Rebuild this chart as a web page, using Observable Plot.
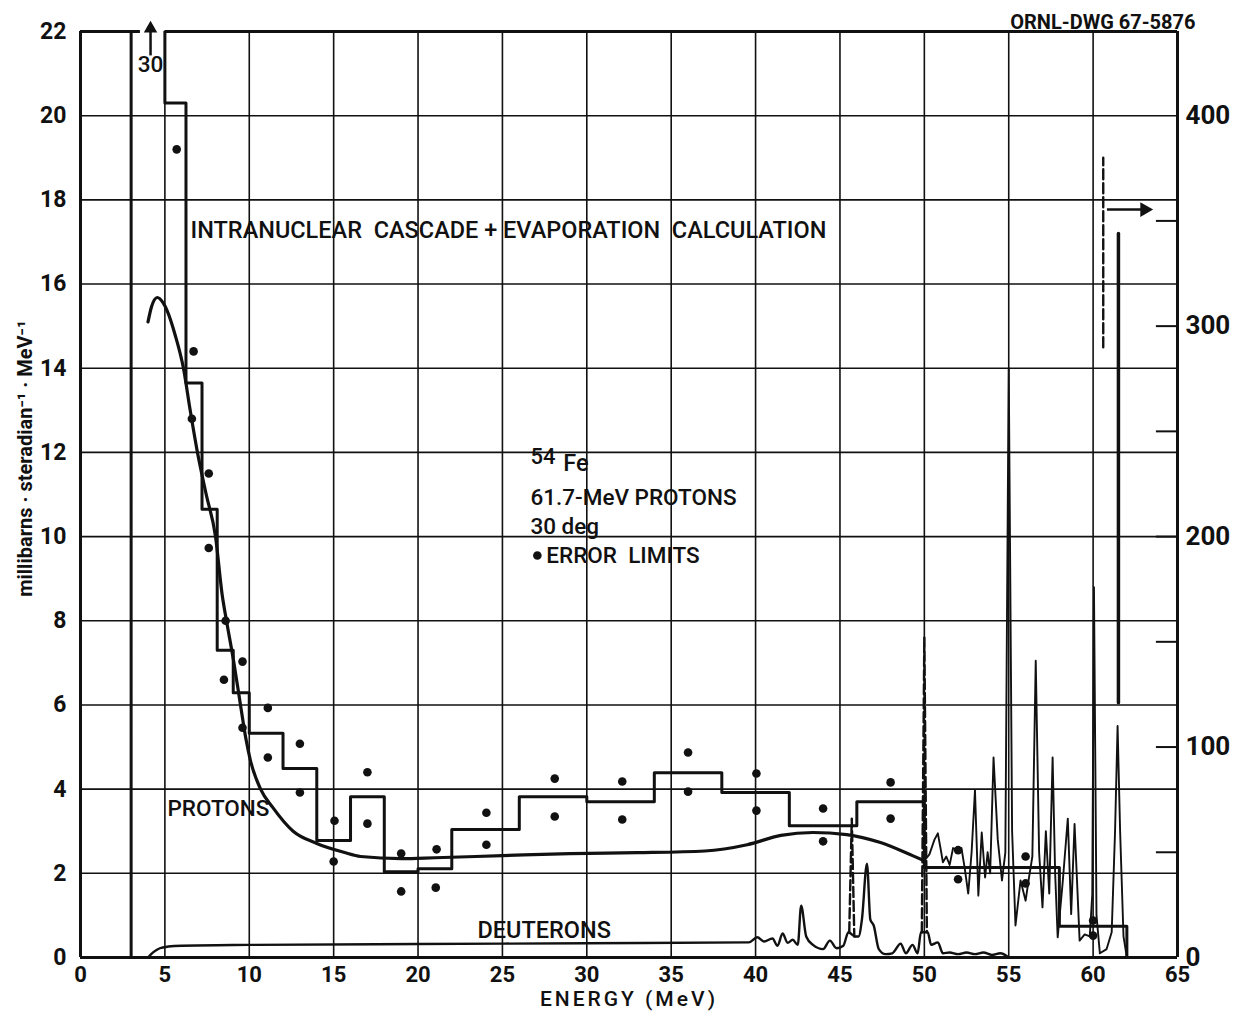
<!DOCTYPE html>
<html>
<head>
<meta charset="utf-8">
<script src="https://cdn.jsdelivr.net/npm/d3@7"></script>
<script src="https://cdn.jsdelivr.net/npm/@observablehq/plot@0.6"></script>
<style>
  html, body { margin: 0; padding: 0; background: #fff; }
  #chart { width: 1246px; height: 1020px; }
</style>
</head>
<body>
<div id="chart"></div>
<script>
// ---------- axes / ticks ----------
const xTicks = [0, 5, 10, 15, 20, 25, 30, 35, 40, 45, 50, 55, 60, 65];
const yTicks = [0, 2, 4, 6, 8, 10, 12, 14, 16, 18, 20, 22];
const rightTicks = [0, 100, 200, 300, 400];          // right-hand scale (x20)
const rightMinorTicks = [50, 100, 150, 200, 250, 300, 350];
const rightScaleFactor = 20;

// ---------- histogram: intranuclear cascade + evaporation ----------
const histEdges  = [3, 5, 6.25, 7.2, 8.1, 9.05, 10, 12, 14, 16, 18, 20, 22, 26, 30, 34, 38, 42, 46, 50, 58, 62];
const histValues = [30, 20.3, 13.65, 10.65, 7.3, 6.29, 5.33, 4.49, 2.78, 3.82, 2.04, 2.11, 3.04, 3.82, 3.7, 4.39, 3.92, 3.13, 3.7, 2.14, 0.74];

// ---------- error limits (dots) ----------
const errX = [5.7, 6.7, 6.6, 7.6, 7.6, 8.6, 8.5, 9.6, 9.6, 11.1, 11.1, 13, 13, 15.05, 15, 17, 17, 19, 19, 21.1, 21.05, 24.05, 24.05, 28.1, 28.1, 32.1, 32.1, 36, 36, 40.05, 40.05, 44, 44, 48, 48, 52, 52, 56, 56, 60, 60];
const errY = [19.2, 14.4, 12.8, 11.5, 9.73, 8.0, 6.6, 7.03, 5.46, 5.93, 4.75, 5.08, 3.92, 3.25, 2.28, 4.4, 3.18, 2.47, 1.57, 2.57, 1.66, 3.44, 2.68, 4.25, 3.35, 4.18, 3.28, 4.87, 3.94, 4.37, 3.49, 3.54, 2.76, 4.16, 3.3, 2.55, 1.86, 2.4, 1.76, 0.88, 0.52];

// ---------- measured protons (smooth part) ----------
const protonSmoothX = [4.0, 4.2, 4.55, 4.9, 5.15, 5.6, 6.1, 6.5, 6.93, 7.45, 8.0, 8.4, 8.65, 9.07, 9.48, 9.8, 10.07, 10.67, 11.4, 12.6, 14.0, 15.6, 16.6, 19, 21, 25, 29, 33, 37, 39.5, 41.5, 43.4, 45.4, 47.4, 49.3, 50];
const protonSmoothY = [15.1, 15.45, 15.68, 15.55, 15.35, 14.8, 14.0, 13.0, 12.0, 11.0, 10.0, 8.6, 8.0, 7.05, 6.0, 5.2, 4.68, 4.0, 3.56, 3.0, 2.71, 2.5, 2.4, 2.35, 2.37, 2.42, 2.47, 2.49, 2.53, 2.68, 2.9, 2.97, 2.92, 2.73, 2.42, 2.3];

// ---------- measured protons (resolved peaks above 50 MeV) ----------
const protonPeakX = [50.0, 50.3, 50.6, 50.8, 51.0, 51.1, 51.3, 51.5, 51.7, 52.0, 52.2, 52.4, 52.6, 52.8, 53.0, 53.2, 53.4, 53.6, 53.75, 53.9, 54.1, 54.35, 54.6, 54.8, 55.0, 55.2, 55.4, 55.7, 56.0, 56.2, 56.4, 56.6, 56.8, 57.0, 57.2, 57.4, 57.6, 57.75, 57.9, 58.2, 58.5, 58.7, 58.9, 59.2, 59.5, 59.8, 59.95, 60.05, 60.2, 60.4, 60.8, 61.1, 61.3, 61.45, 61.6, 61.8, 62.0];
const protonPeakY = [2.3, 2.45, 2.8, 2.95, 2.5, 2.26, 2.4, 2.2, 2.6, 2.55, 2.6, 2.1, 1.52, 2.5, 3.97, 1.47, 2.97, 1.9, 2.5, 2.0, 4.75, 2.8, 1.83, 2.5, 14.0, 3.0, 0.76, 1.83, 1.35, 1.9, 2.4, 7.05, 2.5, 1.19, 3.0, 1.52, 4.75, 2.0, 0.48, 1.8, 3.3, 1.03, 3.17, 0.4, 0.55, 0.5, 1.5, 8.8, 1.0, 0.1, 0.2, 0.6, 3.0, 5.5, 3.0, 0.5, 0.0];

// ---------- deuterons ----------
const deutX = [4.0, 4.3, 4.7, 5.2, 6, 10, 20, 30, 39.6, 40.1, 40.5, 41, 41.3, 41.6, 41.9, 42.2, 42.5, 42.7, 43.0, 43.4, 44.0, 44.4, 44.8, 45.2, 45.5, 45.9, 46.1, 46.3, 46.6, 46.8, 47.0, 47.3, 47.7, 48.1, 48.6, 48.9, 49.3, 49.6, 49.8, 50.2, 50.4, 50.8, 51.1, 51.5, 52, 52.5, 53, 53.5, 54, 54.5, 55];
const deutY = [0, 0.12, 0.22, 0.26, 0.28, 0.3, 0.32, 0.34, 0.36, 0.48, 0.38, 0.45, 0.28, 0.57, 0.35, 0.42, 0.3, 1.23, 0.5, 0.3, 0.2, 0.4, 0.22, 0.28, 0.6, 0.5, 0.5, 0.9, 2.23, 0.9, 0.76, 0.2, 0.08, 0.1, 0.33, 0.1, 0.3, 0.1, 0.6, 0.6, 0.3, 0.36, 0.1, 0.12, 0.08, 0.12, 0.08, 0.12, 0.06, 0.1, 0.0];

// dashed spikes (peak id, energy, value)
const dashedId = ["a", "a", "a", "b", "b", "b", "c", "c"];
const dashedX  = [45.55, 45.7, 45.85, 49.85, 50.0, 50.15, 60.6, 60.6];
const dashedY  = [0.6, 3.3, 0.5, 0.6, 7.6, 0.6, 14.5, 19.0];

// off-scale peak read on right-hand scale
const bigPeakX = [61.5, 61.5];
const bigPeakY = [6.05, 17.2];

// arrows: off-scale bar (value 30) and "read on right-hand scale"
const upArrowX = 4.15, upArrowY = [21.42, 22.02];
const rightArrowY = 17.77, rightArrowX = [60.85, 62.95];

// ---------- build tables ----------
const histSteps = [{x: histEdges[0], y: 0}].concat(histValues.map((v, i) => ({x: histEdges[i], y: v})), [{x: histEdges[histEdges.length - 1], y: 0}]);
const errors = errX.map((x, i) => ({x, y: errY[i]}));
const protonSmooth = protonSmoothX.map((x, i) => ({x, y: protonSmoothY[i]}));
const protonPeaks = protonPeakX.map((x, i) => ({x, y: protonPeakY[i]}));
const deut = deutX.map((x, i) => ({x, y: deutY[i]}));
const dashed = dashedX.map((x, i) => ({id: dashedId[i], x, y: dashedY[i]}));
const bigPeak = bigPeakX.map((x, i) => ({x, y: bigPeakY[i]}));

const ink = "#111";
const txtFont = "Roboto";
const T = 22.5; // annotation font size

const chart = Plot.plot({
  width: 1246,
  height: 1020,
  marginLeft: 80,
  marginRight: 69,
  marginTop: 31,
  marginBottom: 63,
  x: {domain: [0, 65]},
  y: {domain: [0, 22]},
  style: {fontFamily: txtFont, fontSize: "23px", fontWeight: "700", color: ink, background: "#fff", overflow: "visible"},
  marks: [
    // grid
    Plot.ruleX(xTicks.filter(d => d > 0 && d < 65), {stroke: ink, strokeWidth: 1.6}),
    Plot.ruleY(yTicks.filter(d => d > 0 && d < 22), {stroke: ink, strokeWidth: 1.6}),
    // frame (top line interrupted by the off-scale arrow)
    Plot.ruleX([0, 65], {stroke: ink, strokeWidth: 3}),
    Plot.ruleY([0], {stroke: ink, strokeWidth: 3}),
    Plot.ruleY([22, 22], {x1: [0, 5], x2: [3.55, 65], stroke: ink, strokeWidth: 3}),
    // right-hand inner ticks
    Plot.ruleY(rightMinorTicks, {y: d => d / rightScaleFactor, x1: 63.75, x2: 65, stroke: ink, strokeWidth: 2}),
    // axes
    Plot.axisY({ticks: yTicks, anchor: "left", tickSize: 0, tickPadding: 14, label: null}),
    Plot.axisY({ticks: rightTicks.map(d => d / rightScaleFactor), tickFormat: d => String(Math.round(d * rightScaleFactor)), anchor: "right", tickSize: 0, tickPadding: 8, label: null, fontSize: 26}),
    Plot.axisX({ticks: xTicks, tickSize: 0, tickPadding: 9, label: null, fontSize: 22}),
    // histogram
    Plot.line(histSteps, {x: "x", y: "y", curve: "step-after", stroke: ink, strokeWidth: 3, clip: true}),
    // measured spectra
    Plot.line(protonSmooth, {x: "x", y: "y", curve: "monotone-x", stroke: ink, strokeWidth: 3.2}),
    Plot.line(protonPeaks, {x: "x", y: "y", curve: "linear", stroke: ink, strokeWidth: 1.9}),
    Plot.line(deut, {x: "x", y: "y", curve: "monotone-x", stroke: ink, strokeWidth: 2.4}),
    Plot.line(dashed, {x: "x", y: "y", z: "id", stroke: ink, strokeWidth: 2.4, strokeDasharray: "10,4"}),
    Plot.line(bigPeak, {x: "x", y: "y", stroke: ink, strokeWidth: 3.5}),
    // error limits
    Plot.dot(errors, {x: "x", y: "y", r: 4.3, fill: ink, stroke: "none"}),
    // arrows (shaft + filled head)
    Plot.ruleX([upArrowX], {y1: upArrowY[0], y2: upArrowY[1], stroke: ink, strokeWidth: 2.5}),
    Plot.dot([upArrowX], {x: d => d, y: upArrowY[1] + 0.05, symbol: "triangle", r: 5, fill: ink, stroke: "none"}),
    Plot.ruleY([rightArrowY], {x1: rightArrowX[0], x2: rightArrowX[1], stroke: ink, strokeWidth: 2.5}),
    Plot.dot([rightArrowY], {x: rightArrowX[1] + 0.1, y: d => d, symbol: "triangle", rotate: 90, r: 5.5, fill: ink, stroke: "none"}),
    // annotations
    Plot.text(["30"], {x: upArrowX, y: 21.2, text: d => d, fontSize: T, fontWeight: 500, fill: ink}),
    Plot.text(["INTRANUCLEAR  CASCADE + EVAPORATION  CALCULATION"], {x: 6.52, y: 17.27, text: d => d, textAnchor: "start", fontSize: 23.5, fontWeight: 500, fill: ink}),
    Plot.text(["54"], {x: 26.66, y: 11.9, text: d => d, textAnchor: "start", fontSize: 22, fontWeight: 500, fill: ink}),
    Plot.text(["Fe"], {x: 28.61, y: 11.73, text: d => d, textAnchor: "start", fontSize: 23.5, fontWeight: 500, fill: ink}),
    Plot.text(["61.7-MeV PROTONS"], {x: 26.66, y: 10.93, text: d => d, textAnchor: "start", fontSize: T, fontWeight: 500, fill: ink}),
    Plot.text(["30 deg"], {x: 26.66, y: 10.24, text: d => d, textAnchor: "start", fontSize: T, fontWeight: 500, fill: ink}),
    Plot.dot([0], {x: 27.07, y: 9.55, r: 4.3, fill: ink}),
    Plot.text(["ERROR  LIMITS"], {x: 27.6, y: 9.55, text: d => d, textAnchor: "start", fontSize: T, fontWeight: 500, fill: ink}),
    Plot.text(["PROTONS"], {x: 5.15, y: 3.54, text: d => d, textAnchor: "start", fontSize: T, fontWeight: 500, fill: ink}),
    Plot.text(["DEUTERONS"], {x: 23.52, y: 0.64, text: d => d, textAnchor: "start", fontSize: 23.5, fontWeight: 500, fill: ink}),
    Plot.text(["ENERGY (MeV)"], {frameAnchor: "bottom", dy: 48, text: d => d, fontSize: 21, fontWeight: 500, fill: ink}),
    Plot.text(["millibarns · steradian⁻¹ · MeV⁻¹"], {frameAnchor: "left", y: 11.85, dx: -55, rotate: -90, textAnchor: "middle", text: d => d, fontSize: 20, fontWeight: 700, fill: ink}),
    Plot.text(["ORNL-DWG 67-5876"], {frameAnchor: "top-right", dx: 18, dy: -17, textAnchor: "end", text: d => d, fontSize: 20, fontWeight: 700, fill: ink})
  ]
});
// wide hand-lettered look for the x-axis title
d3.select(chart).selectAll("text")
  .filter(function() { return this.textContent === "ENERGY (MeV)"; })
  .attr("letter-spacing", 3);
document.getElementById("chart").appendChild(chart);
</script>
</body>
</html>
